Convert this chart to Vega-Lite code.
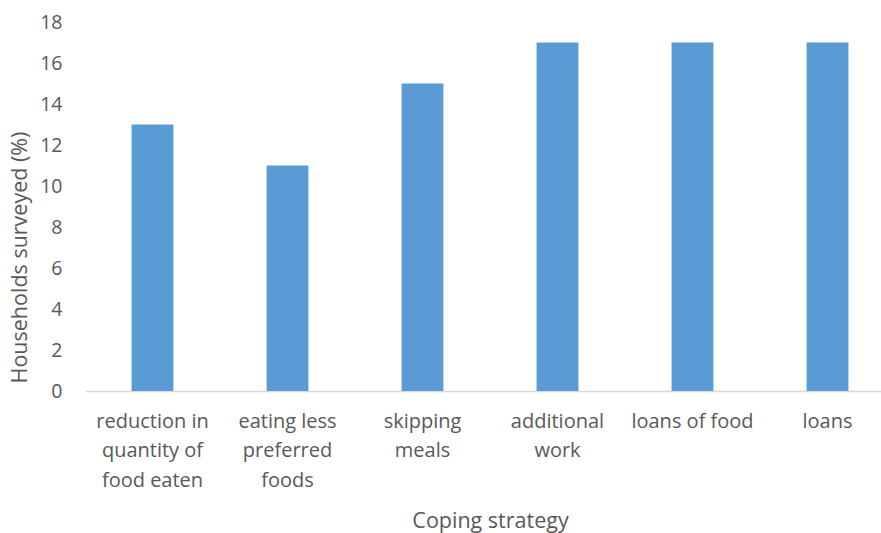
{
  "$schema": "https://vega.github.io/schema/vega-lite/v6.json",
  "width": 796,
  "height": 369,
  "autosize": {"type": "none"},
  "padding": {"left": 85, "top": 22, "right": 0, "bottom": 142},
  "background": "white",
  "config": {
    "view": {"stroke": null},
    "font": "Open Sans"
  },
  "data": {
    "values": [
      {"strategy": "reduction in quantity of food eaten", "pct": 13},
      {"strategy": "eating less preferred foods", "pct": 11},
      {"strategy": "skipping meals", "pct": 15},
      {"strategy": "additional work", "pct": 17},
      {"strategy": "loans of food", "pct": 17},
      {"strategy": "loans", "pct": 17}
    ]
  },
  "mark": {"type": "bar", "color": "#5B9BD5", "clip": false},
  "encoding": {
    "x": {
      "field": "strategy",
      "type": "nominal",
      "sort": null,
      "scale": {"range": [0, 810], "paddingInner": 0.69, "paddingOuter": 0.345},
      "axis": {
        "title": "Coping strategy",
        "titleFont": "Open Sans",
        "titleFontSize": 21.5,
        "titleFontWeight": "normal",
        "titleColor": "#595959",
        "titleY": 130,
        "titleBaseline": "middle",
        "labelAngle": 0,
        "labelFontSize": 20,
        "labelColor": "#595959",
        "labelBaseline": "top",
        "labelPadding": 20,
        "labelLineHeight": 29.5,
        "labelLimit": 300,
        "labelExpr": "datum.value == 'reduction in quantity of food eaten' ? ['reduction in', 'quantity of', 'food eaten'] : datum.value == 'eating less preferred foods' ? ['eating less', 'preferred', 'foods'] : datum.value == 'skipping meals' ? ['skipping', 'meals'] : datum.value == 'additional work' ? ['additional', 'work'] : datum.label",
        "ticks": false,
        "domainColor": "#D9D9D9",
        "domainWidth": 1.5,
        "grid": false
      }
    },
    "y": {
      "field": "pct",
      "type": "quantitative",
      "scale": {"domain": [0, 18]},
      "axis": {
        "title": "Households surveyed (%)",
        "titleFont": "Open Sans",
        "titleFontSize": 21.5,
        "titleFontWeight": "normal",
        "titleColor": "#595959",
        "titleX": -65,
        "titleY": 235,
        "titleBaseline": "middle",
        "titleAngle": -90,
        "values": [0, 2, 4, 6, 8, 10, 12, 14, 16, 18],
        "labelFontSize": 19.5,
        "labelColor": "#595959",
        "labelPadding": 23,
        "ticks": false,
        "domain": false,
        "grid": false
      }
    }
  }
}
